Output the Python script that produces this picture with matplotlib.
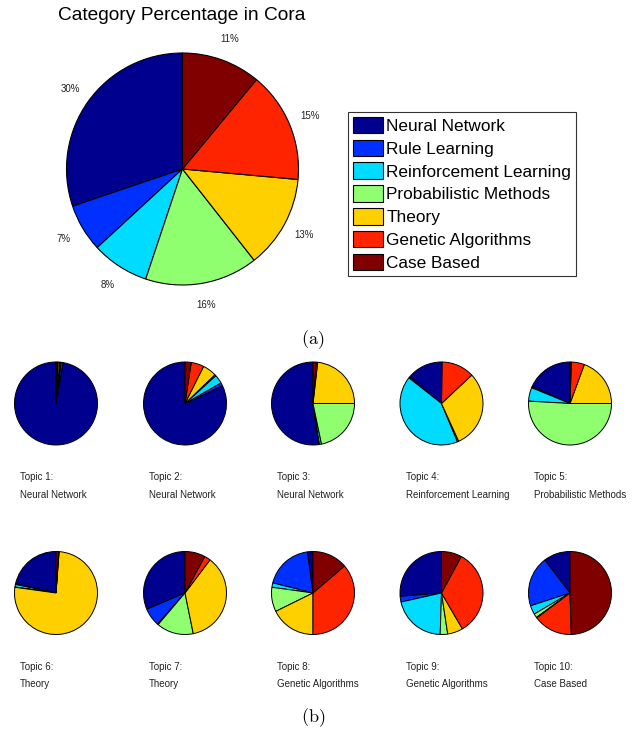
import matplotlib
matplotlib.use("Agg")
import matplotlib.pyplot as plt
from matplotlib.patches import Patch

plt.rcParams["font.family"] = ["Liberation Sans", "DejaVu Sans"]
plt.rcParams["mathtext.fontset"] = "cm"

categories = ["Neural Network", "Rule Learning", "Reinforcement Learning",
              "Probabilistic Methods", "Theory", "Genetic Algorithms", "Case Based"]
colors = ["#00008f", "#0030ff", "#00dcff", "#8fff70", "#ffd000", "#ff2400", "#800000"]

# paper counts per category in Cora
cora_counts = [818, 180, 217, 426, 351, 418, 298]

# topic proportions (percent), same category order
topic_names = ["Neural Network", "Neural Network", "Neural Network",
               "Reinforcement Learning", "Probabilistic Methods",
               "Theory", "Theory", "Genetic Algorithms", "Genetic Algorithms",
               "Case Based"]
topic_shares = [
    [97.3, 0.8, 0.2, 0.3, 0.6, 0.3, 0.5],
    [82.1, 1.2, 3.4, 0.5, 5.4, 5.0, 2.4],
    [52.2, 0.3, 0.8, 21.7, 23.2, 0.6, 1.2],
    [13.9, 0.5, 41.9, 0.5, 30.2, 12.8, 0.2],
    [18.3, 0.5, 5.3, 50.9, 19.4, 5.1, 0.5],
    [21.4, 0.3, 1.0, 0.1, 76.0, 0.2, 1.0],
    [31.4, 7.1, 0.3, 14.4, 36.5, 2.4, 7.9],
    [2.2, 18.9, 1.7, 9.5, 17.7, 36.3, 13.7],
    [26.3, 2.2, 21.0, 2.9, 6.0, 33.7, 7.9],
    [10.4, 19.6, 3.5, 1.5, 0.3, 15.2, 49.5],
]

W, H = 638, 732
fig = plt.figure(figsize=(W / 100, H / 100), dpi=100)


def pie_axes(cx, cy, r, pad=1.3):
    # axes box in pixel units, y measured from the top
    return fig.add_axes([(cx - pad * r) / W, 1 - (cy + pad * r) / H,
                         2 * pad * r / W, 2 * pad * r / H])


# (a) overall pie
ax = pie_axes(182.5, 169, 116)
wedges, _, autotexts = ax.pie(
    cora_counts, colors=colors, startangle=90, counterclock=True,
    autopct="%1.0f%%", pctdistance=1.19,
    wedgeprops=dict(edgecolor="black", linewidth=0.8),
    textprops=dict(fontsize=7, color="#222222"))
ax.set_xlim(-1.3, 1.3)
ax.set_ylim(-1.3, 1.3)
ax.axis("off")
fig.text(182 / W, 1 - 15 / H, "Category Percentage in Cora", fontsize=13.8,
         ha="center", va="center")

handles = [Patch(facecolor=c, edgecolor="black", linewidth=0.8) for c in colors]
leg = fig.legend(handles, categories, loc="upper left",
                 bbox_to_anchor=(348 / W, 1 - 112 / H), fontsize=12.4,
                 frameon=True, fancybox=False, edgecolor="black",
                 handlelength=1.75, handleheight=1.1, handletextpad=0.2,
                 labelspacing=0.33, borderpad=0.28, borderaxespad=0)
leg.get_frame().set_linewidth(0.8)

fig.text(313 / W, 1 - 340 / H, r"$\mathrm{(a)}$", fontsize=13,
         ha="center", va="center")

# (b) topic pies
col_x = [56, 185, 313, 441.5, 570]
row_y = [403.5, 593]
for i, shares in enumerate(topic_shares):
    cx = col_x[i % 5]
    cy = row_y[i // 5]
    a = pie_axes(cx, cy, 41.5, pad=1.05)
    a.pie(shares, colors=colors, startangle=90, counterclock=True,
          wedgeprops=dict(edgecolor="black", linewidth=0.7))
    a.set_xlim(-1.05, 1.05)
    a.set_ylim(-1.05, 1.05)
    a.axis("off")
    fig.text((cx - 36) / W, 1 - (cy + 74) / H, f"Topic {i + 1}:", fontsize=7,
             ha="left", va="center", color="#222222")
    fig.text((cx - 36) / W, 1 - (cy + 91) / H, topic_names[i], fontsize=7,
             ha="left", va="center", color="#222222")

fig.text(313 / W, 1 - 718 / H, r"$\mathrm{(b)}$", fontsize=13,
         ha="center", va="center")

fig.savefig("out.png", dpi=100)
